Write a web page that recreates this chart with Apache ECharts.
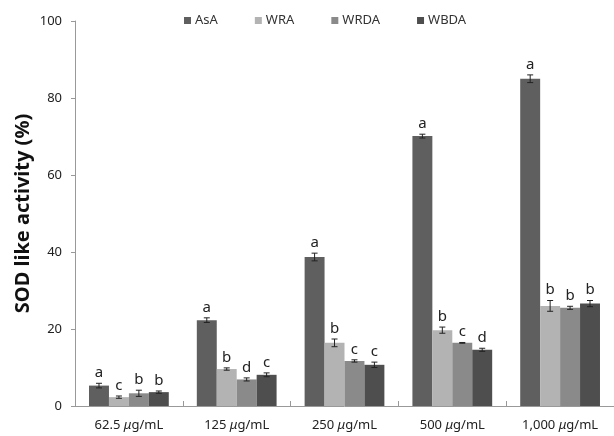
<!DOCTYPE html>
<html>
<head>
<meta charset="utf-8">
<script src="https://cdn.jsdelivr.net/npm/echarts@6/dist/echarts.min.js"></script>
<style>
  html, body { margin: 0; padding: 0; background: #fff; }
  #chart { width: 614px; height: 436px; }
</style>
</head>
<body>
<div id="chart"></div>
<script>
// Concentrations tested (μg/mL)
const doses = ['62.5', '125', '250', '500', '1,000'];
const seriesNames = ['AsA', 'WRA', 'WRDA', 'WBDA'];
const seriesColors = ['#5f5f5f', '#b3b3b3', '#8a8a8a', '#4e4e4e'];

// Mean SOD-like activity (%)
const asaValues  = [5.3, 22.3, 38.7, 70.1, 85.0];
const wraValues  = [2.3,  9.6, 16.4, 19.7, 26.0];
const wrdaValues = [3.3,  6.9, 11.7, 16.4, 25.5];
const wbdaValues = [3.6,  8.1, 10.7, 14.6, 26.6];

// Standard deviations
const asaErrors  = [0.6, 0.6, 1.0, 0.5, 1.0];
const wraErrors  = [0.3, 0.3, 1.0, 0.8, 1.4];
const wrdaErrors = [0.8, 0.4, 0.3, 0.1, 0.4];
const wbdaErrors = [0.3, 0.5, 0.7, 0.4, 0.8];

// Duncan's multiple range test letters
const asaLetters  = ['a', 'a', 'a', 'a', 'a'];
const wraLetters  = ['c', 'b', 'b', 'b', 'b'];
const wrdaLetters = ['b', 'd', 'c', 'c', 'b'];
const wbdaLetters = ['b', 'c', 'c', 'd', 'b'];

const yTicks = [0, 20, 40, 60, 80, 100];

const allValues  = [asaValues, wraValues, wrdaValues, wbdaValues];
const allErrors  = [asaErrors, wraErrors, wrdaErrors, wbdaErrors];
const allLetters = [asaLetters, wraLetters, wrdaLetters, wbdaLetters];

const FONT = '"Noto Sans", "Open Sans", sans-serif';
const BAR_FRACTION = 0.185; // each bar's share of the category band

const barSeries = seriesNames.map((name, s) => ({
  name: name,
  type: 'bar',
  barWidth: (BAR_FRACTION * 100) + '%',
  barGap: '0%',
  itemStyle: { color: seriesColors[s] },
  data: allValues[s],
  z: 2
}));

// Error bars and significance letters, placed over each bar
const annotationData = [];
allValues.forEach((vals, s) => {
  vals.forEach((v, i) => {
    annotationData.push([i, v, allErrors[s][i], allLetters[s][i], s]);
  });
});

const annotationSeries = {
  type: 'custom',
  silent: true,
  z: 5,
  encode: { x: 0, y: 1 },
  data: annotationData,
  renderItem: function (params, api) {
    const cat = api.value(0);
    const v = api.value(1);
    const err = api.value(2);
    const letter = annotationData[params.dataIndex][3];
    const s = api.value(4);
    const band = api.size([1, 0])[0];
    const barW = band * BAR_FRACTION;
    const center = api.coord([cat, v]);
    const x = center[0] + (s - 1.5) * barW;
    const yHi = api.coord([cat, v + err])[1];
    const yLo = api.coord([cat, v - err])[1];
    const cap = 3;
    const lineStyle = { stroke: '#222', lineWidth: 1 };
    return {
      type: 'group',
      children: [
        { type: 'line', shape: { x1: x, y1: yHi, x2: x, y2: yLo }, style: lineStyle },
        { type: 'line', shape: { x1: x - cap, y1: yHi, x2: x + cap, y2: yHi }, style: lineStyle },
        { type: 'line', shape: { x1: x - cap, y1: yLo, x2: x + cap, y2: yLo }, style: lineStyle },
        {
          type: 'text',
          style: {
            text: letter,
            x: x,
            y: yHi - 3,
            align: 'center',
            verticalAlign: 'bottom',
            font: '15px ' + FONT,
            fill: '#222'
          }
        }
      ]
    };
  }
};

const chart = echarts.init(document.getElementById('chart'), null, { renderer: 'canvas' });
chart.setOption({
  animation: false,
  backgroundColor: '#fff',
  legend: {
    data: seriesNames,
    left: 179,
    top: 9,
    icon: 'rect',
    itemWidth: 7,
    itemHeight: 7,
    itemGap: 37,
    textStyle: { fontFamily: FONT, fontSize: 13, color: '#333', padding: [0, 0, 0, -1] }
  },
  grid: { left: 75, top: 21, width: 540, height: 385, containLabel: false },
  xAxis: {
    type: 'category',
    data: doses,
    axisLine: { lineStyle: { color: '#999', width: 1 } },
    axisTick: { show: true, inside: true, length: 5, lineStyle: { color: '#999' } },
    axisLabel: {
      interval: 0,
      margin: 13,
      fontFamily: FONT,
      fontSize: 13,
      color: '#222',
      formatter: function (v) { return v + ' {mu|μ}g/mL'; },
      rich: { mu: { fontStyle: 'italic', fontFamily: FONT, fontSize: 13, color: '#222' } }
    }
  },
  yAxis: {
    type: 'value',
    min: yTicks[0],
    max: yTicks[yTicks.length - 1],
    interval: 20,
    name: 'SOD like activity (%)',
    nameLocation: 'middle',
    nameGap: 42,
    nameMoveOverlap: false,
    nameTextStyle: { fontFamily: FONT, fontSize: 20, fontWeight: 'bold', color: '#111' },
    axisLine: { show: true, lineStyle: { color: '#999', width: 1 } },
    axisTick: { show: true, length: 4, lineStyle: { color: '#999' } },
    splitLine: { show: false },
    axisLabel: { margin: 13, fontFamily: FONT, fontSize: 13, color: '#222' }
  },
  series: barSeries.concat([annotationSeries])
});
</script>
</body>
</html>
